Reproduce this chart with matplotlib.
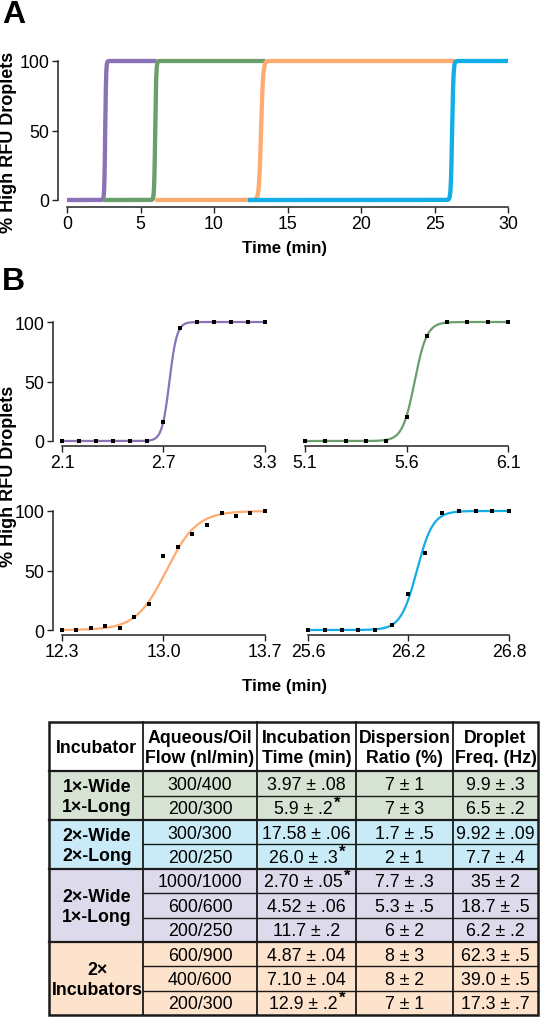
import matplotlib
matplotlib.use('Agg')
import matplotlib.pyplot as plt
import numpy as np
from matplotlib.patches import Rectangle

plt.rcParams['font.family'] = ['Liberation Sans', 'DejaVu Sans']

# ---------------- data ----------------
line_colors = ['#8a72b6', '#6a9e6a', '#fdab70', '#12ade6']

# Panel A: sigmoid transitions (midpoint, width in min) and time span drawn
a_mid = [2.6, 6.0, 13.2, 26.2]
a_width = [0.03, 0.035, 0.07, 0.045]
a_start = [0.0, 2.5, 6.0, 12.3]
a_end = [6.1, 13.5, 26.4, 30.0]

# Panel B: measured points
b_time_purple = [2.1, 2.2, 2.3, 2.4, 2.5, 2.6, 2.7, 2.8, 2.9, 3.0, 3.1, 3.2, 3.3]
b_pct_purple = [0, 0, 0, 0, 0, 0, 16, 95, 100, 100, 100, 100, 100]
b_time_green = [5.1, 5.2, 5.3, 5.4, 5.5, 5.6, 5.7, 5.8, 5.9, 6.0, 6.1]
b_pct_green = [0, 0, 0, 0, 0, 20, 88, 100, 100, 100, 100]
b_time_orange = [12.3, 12.4, 12.5, 12.6, 12.7, 12.8, 12.9, 13.0, 13.1, 13.2, 13.3, 13.4, 13.5, 13.6, 13.7]
b_pct_orange = [0, 0, 2, 3.5, 1.5, 11, 22, 62, 70, 81, 88, 98, 96, 98.5, 100]
b_time_blue = [25.6, 25.7, 25.8, 25.9, 26.0, 26.1, 26.2, 26.3, 26.4, 26.5, 26.6, 26.7, 26.8]
b_pct_blue = [0, 0, 0, 0, 0, 4, 30, 65, 98, 100, 100, 100, 100]
# fitted sigmoid parameters (midpoint, width)
b_fit_mid = [2.735, 5.64, 13.02, 26.25]
b_fit_width = [0.022, 0.03, 0.105, 0.048]
b_xticks = [[2.1, 2.7, 3.3], [5.1, 5.6, 6.1], [12.3, 13.0, 13.7], [25.6, 26.2, 26.8]]

# Table
headers = ['Incubator', 'Aqueous/Oil\nFlow (nl/min)', 'Incubation\nTime (min)',
           'Dispersion\nRatio (%)', 'Droplet\nFreq. (Hz)']
groups = ['1×-Wide\n1×-Long', '2×-Wide\n2×-Long', '2×-Wide\n1×-Long', '2×\nIncubators']
group_sizes = [2, 2, 3, 3]
group_colors = ['#d6e3d3', '#c9ebf8', '#dddaec', '#fde2cc']
flows = ['300/400', '200/300', '300/300', '200/250', '1000/1000', '600/600',
         '200/250', '600/900', '400/600', '200/300']
inc_times = ['3.97 ± .08', '5.9 ± .2', '17.58 ± .06', '26.0 ± .3', '2.70 ± .05',
             '4.52 ± .06', '11.7 ± .2', '4.87 ± .04', '7.10 ± .04', '12.9 ± .2']
starred = [False, True, False, True, True, False, False, False, False, True]
dispersion = ['7 ± 1', '7 ± 3', '1.7 ± .5', '2 ± 1', '7.7 ± .3', '5.3 ± .5',
              '6 ± 2', '8 ± 3', '8 ± 2', '7 ± 1']
freq = ['9.9 ± .3', '6.5 ± .2', '9.92 ± .09', '7.7 ± .4', '35 ± 2', '18.7 ± .5',
        '6.2 ± .2', '62.3 ± .5', '39.0 ± .5', '17.3 ± .7']

# ---------------- figure ----------------
W, H = 544, 1020
fig = plt.figure(figsize=(W / 100, H / 100), dpi=100)
PT = 72 / 100  # points per pixel

TICK_FS = 12.8
LAB_FS = 12.2


def ax_px(l, t, r, b):
    return fig.add_axes([l / W, 1 - b / H, (r - l) / W, (b - t) / H])


def style(ax, left=True, lout=9, bout=6):
    ax.spines['top'].set_visible(False)
    ax.spines['right'].set_visible(False)
    ax.spines['bottom'].set_position(('outward', bout * PT))
    ax.spines['bottom'].set_color('#222222')
    ax.spines['bottom'].set_linewidth(1.1)
    if left:
        ax.spines['left'].set_position(('outward', lout * PT))
        ax.spines['left'].set_color('#222222')
        ax.spines['left'].set_linewidth(1.1)
    else:
        ax.spines['left'].set_visible(False)
        ax.tick_params(axis='y', left=False, labelleft=False)
    ax.tick_params(direction='out', length=6 * PT, width=1.0, labelsize=TICK_FS,
                   pad=2.5 * PT, color='#222222')
    ax.patch.set_visible(False)


def sigmoid(x, mid, w):
    return 100.0 / (1.0 + np.exp(-(x - mid) / w))


# ---- Panel A ----
axA = ax_px(67, 62, 508, 201)
for c, m, w, s, e in zip(line_colors, a_mid, a_width, a_start, a_end):
    x = np.linspace(s, e, 2000)
    axA.plot(x, sigmoid(x, m, w), color=c, lw=3.1, clip_on=False,
             solid_capstyle='butt', solid_joinstyle='round')
axA.set_xlim(0, 30)
axA.set_ylim(0, 100)
axA.set_xticks([0, 5, 10, 15, 20, 25, 30])
axA.set_yticks([0, 50, 100])
style(axA, lout=9, bout=7)
fig.text(285 / W, 1 - 248 / H, 'Time (min)', ha='center', va='center',
         fontsize=LAB_FS, fontweight='bold')
fig.text(9 / W, 1 - 142 / H, '% High RFU Droplets', ha='center', va='center',
         rotation=90, fontsize=13, fontweight='bold')
fig.text(2 / W, 1 - 15 / H, 'A', ha='left', va='center', fontsize=23,
         fontweight='bold')

# ---- Panel B ----
b_times = [b_time_purple, b_time_green, b_time_orange, b_time_blue]
b_pcts = [b_pct_purple, b_pct_green, b_pct_orange, b_pct_blue]
rects = [(62, 323, 265, 442), (305, 323, 508, 442),
         (62, 512, 265, 631), (308, 512, 509, 631)]
for i in range(4):
    ax = ax_px(*rects[i])
    t = b_times[i]
    xx = np.linspace(t[0], t[-1], 600)
    ax.plot(xx, sigmoid(xx, b_fit_mid[i], b_fit_width[i]), color=line_colors[i],
            lw=1.6, clip_on=False, zorder=2)
    ax.plot(t, b_pcts[i], 's', color='black', ms=2.6, mew=0, clip_on=False, zorder=3)
    ax.set_xlim(t[0], t[-1])
    ax.set_ylim(0, 100)
    ax.set_xticks(b_xticks[i])
    ax.set_xticklabels(['%.1f' % v for v in b_xticks[i]])
    ax.set_yticks([0, 50, 100])
    style(ax, left=(i % 2 == 0), lout=9, bout=4.5)
fig.text(285 / W, 1 - 686 / H, 'Time (min)', ha='center', va='center',
         fontsize=LAB_FS, fontweight='bold')
fig.text(9 / W, 1 - 476 / H, '% High RFU Droplets', ha='center', va='center',
         rotation=90, fontsize=13, fontweight='bold')
fig.text(2 / W, 1 - 282 / H, 'B', ha='left', va='center', fontsize=23,
         fontweight='bold')

# ---- Table ----
TL, TR, TT, TB = 49, 538, 723, 1016
tab = ax_px(TL - 3, TT - 3, TR + 3, TB + 3)
tab.set_xlim(TL - 3, TR + 3)
tab.set_ylim(TB + 3, TT - 3)
tab.axis('off')

col_x = [49, 143, 257, 356, 453, 538]
header_bottom = 772.3
n_rows = len(flows)
row_h = (TB - header_bottom) / n_rows
row_y = [header_bottom + k * row_h for k in range(n_rows + 1)]

TAB_FS = 12.8
# backgrounds
r0 = 0
for g, (gs, gc) in enumerate(zip(group_sizes, group_colors)):
    tab.add_patch(Rectangle((TL, row_y[r0]), TR - TL, gs * row_h, facecolor=gc,
                            edgecolor='none', zorder=0))
    r0 += gs

# header text
for j, h in enumerate(headers):
    tab.text((col_x[j] + col_x[j + 1]) / 2, (TT + header_bottom) / 2 + 1, h,
             ha='center', va='center', fontsize=TAB_FS, fontweight='bold',
             linespacing=1.2, zorder=3)

# group labels
r0 = 0
for g, (gs, gl) in enumerate(zip(group_sizes, groups)):
    yc = (row_y[r0] + row_y[r0 + gs]) / 2
    tab.text((col_x[0] + col_x[1]) / 2 + 1, yc + 1, gl, ha='center', va='center',
             fontsize=TAB_FS, fontweight='bold', linespacing=1.2, zorder=3)
    r0 += gs

# cell values
for k in range(n_rows):
    yc = (row_y[k] + row_y[k + 1]) / 2 + 1
    cols = [flows[k], inc_times[k], dispersion[k], freq[k]]
    for j, val in enumerate(cols):
        xc = (col_x[j + 1] + col_x[j + 2]) / 2
        if j == 1 and starred[k]:
            txt = tab.text(xc - 3, yc, val, ha='center', va='center',
                           fontsize=TAB_FS, zorder=3)
            tab.annotate('*', xy=(1.0, 0.9), xycoords=txt, xytext=(0.5, 0),
                         textcoords='offset points', ha='left', va='center',
                         fontsize=12, fontweight='bold', zorder=3)
        else:
            tab.text(xc, yc, val, ha='center', va='center', fontsize=TAB_FS,
                     zorder=3)

LC = '#1a1a1a'
# in-group row lines (columns 2-5 only)
r0 = 0
for gs in group_sizes:
    for k in range(1, gs):
        y = row_y[r0 + k]
        tab.plot([col_x[1], TR], [y, y], color=LC, lw=1.0, zorder=4)
    r0 += gs
# group separators
r0 = 0
for gs in group_sizes[:-1]:
    r0 += gs
    tab.plot([TL, TR], [row_y[r0]] * 2, color=LC, lw=1.6, zorder=4)
tab.plot([TL, TR], [header_bottom] * 2, color=LC, lw=1.6, zorder=4)
# column lines
for x in col_x[1:-1]:
    tab.plot([x, x], [TT, TB], color=LC, lw=1.3, zorder=4)
# outer border
tab.add_patch(Rectangle((TL, TT), TR - TL, TB - TT, facecolor='none',
                        edgecolor=LC, lw=1.8, zorder=5))

fig.savefig('out.png', dpi=100)
